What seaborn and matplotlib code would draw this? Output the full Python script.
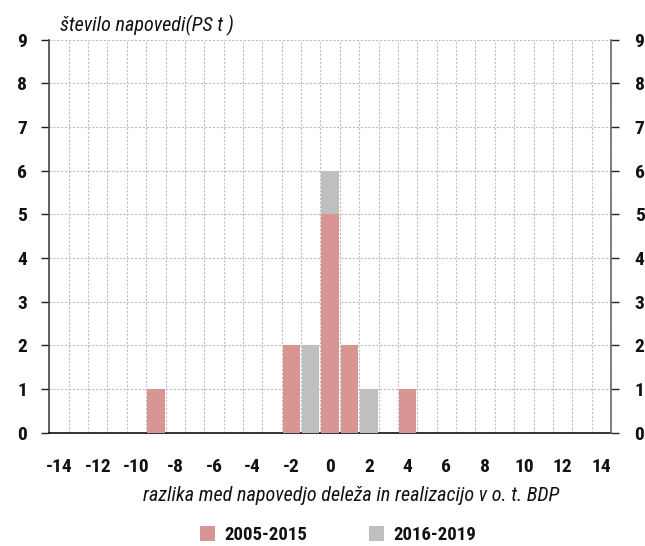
import matplotlib
matplotlib.use("Agg")
import matplotlib.pyplot as plt
from matplotlib import font_manager
import pandas as pd
import seaborn as sns
from matplotlib.patches import Patch

# Forecast error (percentage points of GDP) and number of forecasts per period
diff_values = [-9, -2, -1, 0, 1, 2, 4]
count_2005_2015 = [1, 2, 0, 5, 2, 0, 1]
count_2016_2019 = [0, 0, 2, 1, 0, 1, 0]
periods = ["2005-2015", "2016-2019"]
period_colors = ["#D99594", "#BFBFBF"]
x_ticks = list(range(-14, 15, 2))
y_ticks = list(range(0, 10))

rows = []
for period, counts in zip(periods, [count_2005_2015, count_2016_2019]):
    for d, c in zip(diff_values, counts):
        rows.append({"razlika": d, "stevilo": c, "obdobje": period})
df = pd.DataFrame(rows)

sns.set_style("white")

# prefer a narrow sans face when one is available
available = {f.name for f in font_manager.fontManager.ttflist}
narrow = None
for name in ["Roboto Condensed", "Liberation Sans Narrow", "DejaVu Sans Condensed",
             "Noto Sans Condensed", "Open Sans Condensed"]:
    if name in available:
        narrow = name
        break
if narrow is None:
    plt.rcParams["font.family"] = ["DejaVu Sans"]
    plt.rcParams["font.stretch"] = "condensed"
    scale = 0.85
else:
    plt.rcParams["font.family"] = [narrow, "DejaVu Sans"]
    scale = 1.0
fs_tick = 14 * scale
fs_title = 14.5 * scale
fs_leg = 13.5 * scale

fig = plt.figure(figsize=(6.45, 5.46), dpi=100)
ax = fig.add_axes([49.3 / 645, 1 - 432.7 / 546, (611 - 49.3) / 645, (432.7 - 39.5) / 546])

# first hue level is stacked on top, so the later period goes first
sns.histplot(
    data=df, x="razlika", weights="stevilo", hue="obdobje",
    hue_order=periods[::-1], palette=dict(zip(periods, period_colors)),
    multiple="stack", discrete=True, shrink=0.9, alpha=1,
    edgecolor="none", linewidth=0, legend=False, ax=ax, zorder=3,
)

ax.set_xlim(-14.5, 14.5)
ax.set_ylim(0, 9)
ax.set_xticks(x_ticks)
ax.set_xticklabels([str(t) for t in x_ticks])
ax.set_xticks([v - 0.5 for v in range(-14, 16)], minor=True)
ax.set_yticks(y_ticks)

grid_kw = dict(color="#BDBDBD", linestyle=(0, (2, 1.5)), linewidth=0.8)
ax.grid(False)
ax.grid(True, which="minor", axis="x", **grid_kw)
ax.grid(True, which="major", axis="y", **grid_kw)
ax.set_axisbelow(True)

ax.tick_params(axis="x", which="major", length=0, pad=18, labelsize=fs_tick, labelcolor="#111111")
ax.tick_params(axis="x", which="minor", length=6, width=1, color="#222222", direction="out")
ax.tick_params(axis="y", which="major", length=6, width=1, color="#222222",
               direction="out", pad=10, labelsize=fs_tick, labelcolor="#111111")
for lab in ax.get_xticklabels() + ax.get_yticklabels():
    lab.set_fontweight("bold")

ax.spines["top"].set_visible(False)
ax.spines["bottom"].set_color("#111111")
ax.spines["bottom"].set_linewidth(1.2)
ax.spines["left"].set_color("#444444")
ax.spines["left"].set_linewidth(1.2)
ax.spines["right"].set_visible(False)

ax2 = ax.twinx()
ax2.set_ylim(0, 9)
ax2.set_yticks(y_ticks)
ax2.tick_params(axis="y", length=6, width=1, color="#222222", direction="out",
                pad=11, labelsize=fs_tick, labelcolor="#111111")
for lab in ax2.get_yticklabels():
    lab.set_fontweight("bold")
for side in ["top", "left", "bottom"]:
    ax2.spines[side].set_visible(False)
ax2.spines["right"].set_color("#666666")
ax2.spines["right"].set_linewidth(1.2)
ax2.grid(False)

ax.set_xlabel("")
ax.set_ylabel("")
fig.text(351 / 645, 1 - 495 / 546, "razlika med napovedjo deleža in realizacijo v o. t. BDP",
         fontsize=fs_title, style="italic", ha="center", va="center", color="#111111")
fig.text(60 / 645, 1 - 25 / 546, "število napovedi(PS t )", fontsize=fs_title,
         style="italic", ha="left", va="center", color="#111111")

handles = [Patch(facecolor=c, edgecolor="none") for c in period_colors]
fig.legend(handles, periods, loc="center", bbox_to_anchor=(338 / 645, 1 - 535 / 546),
           ncol=2, frameon=False, handlelength=0.8, handleheight=0.8,
           handletextpad=0.5, columnspacing=3.3,
           prop={"size": fs_leg, "weight": "bold"}, labelcolor="#111111")

fig.savefig("out.png", dpi=100)
